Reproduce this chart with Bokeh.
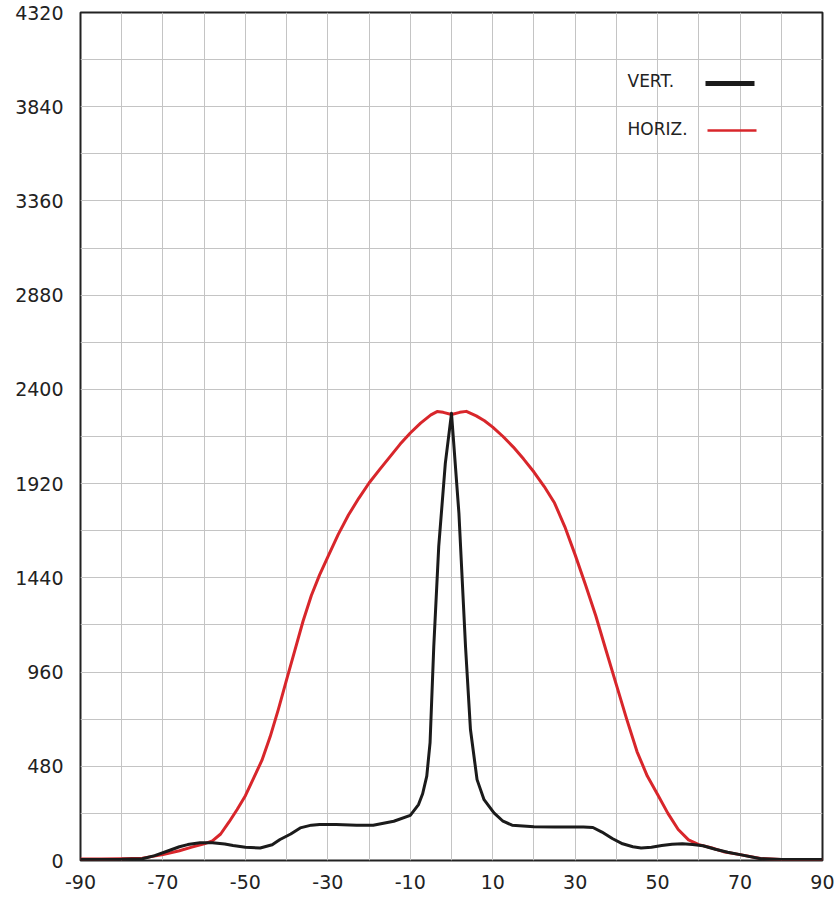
from bokeh.plotting import figure
from bokeh.models import FixedTicker, Label, BoxAnnotation, Range1d
from bokeh.embed import file_html
from bokeh.resources import INLINE

# ---- data ----
horiz_deg = [-90, -85, -80, -75, -70, -66, -63, -60, -58, -56, -54, -52, -50, -48, -46,
             -44, -42, -40, -38, -36, -34, -32, -30, -27.5, -25, -22.5, -20, -17.5,
             -15, -12.5, -10, -7.5, -5, -3.5, -2, 0, 2, 3.6, 6, 8, 10, 12.5, 15, 17.5,
             20, 22.5, 25, 27.5, 30, 32.5, 35, 37.5, 40, 42.5, 45, 47.5, 50, 52.5, 55,
             57.5, 60, 63, 66, 70, 75, 80, 85, 90]
horiz_val = [8, 8, 9, 12, 30, 50, 68, 85, 100, 135, 195, 260, 330, 420, 510,
             630, 770, 921, 1070, 1220, 1350, 1455, 1547, 1660, 1760, 1845, 1923, 1990,
             2055, 2120, 2178, 2228, 2270, 2287, 2283, 2272, 2283, 2288, 2265, 2240, 2208, 2160, 2106, 2045,
             1979, 1905, 1821, 1700, 1557, 1405, 1247, 1070, 895, 720, 555, 430, 336, 240, 158,
             105, 81, 65, 45, 30, 10, 5, 5, 5]

vert_deg = [-90, -80, -75, -72, -69, -66, -64, -61, -58, -55, -53, -50, -46.4, -43.5, -41.6,
            -39, -36.7, -34, -32, -28, -23, -19, -14, -10, -8, -7, -6, -5.2, -4.3, -3.1, -1.5,
            0, 1.8, 3.4, 4.6, 6.2, 7.9, 10.3, 12.5, 14.7, 20, 25, 32, 34.3, 36.5, 39, 41.5,
            44, 46, 48.5, 51, 53.5, 56, 58.5, 61, 64, 67, 70, 75, 80, 90]
vert_val = [5, 6, 9, 25, 47, 70, 81, 90, 91, 84, 76, 67, 64, 80, 107,
            135, 166, 180, 183, 183, 180, 180, 200, 230, 285, 340, 430, 600, 1090, 1599, 2023,
            2278, 1769, 1090, 667, 412, 310, 243, 200, 180, 172, 171, 171, 168, 145, 112, 85,
            70, 64, 68, 76, 83, 85, 82, 75, 57, 42, 30, 9, 5, 5]

x_labels = [-90, -70, -50, -30, -10, 10, 30, 50, 70, 90]
y_labels = [0, 480, 960, 1440, 1920, 2400, 2880, 3360, 3840, 4320]
x_grid = list(range(-90, 91, 10))
y_grid = list(range(0, 4321, 240))

legend_names = ["VERT.", "HORIZ."]
RED = "#d8262b"
BLACK = "#1b1b1b"
FONT = "DejaVu Sans"

p = figure(frame_width=742, frame_height=848, output_backend="svg", toolbar_location=None,
           x_range=Range1d(-90, 90), y_range=Range1d(0, 4320),
           min_border_left=80, min_border_right=12, min_border_top=12, min_border_bottom=0,
           background_fill_color="white", border_fill_color="white")

p.line(horiz_deg, horiz_val, line_color=RED, line_width=3, line_join="round")
p.line(vert_deg, vert_val, line_color=BLACK, line_width=3, line_join="round")

# axes
p.xaxis.ticker = FixedTicker(ticks=x_labels)
p.yaxis.ticker = FixedTicker(ticks=y_labels)
p.xaxis.major_label_overrides = {v: str(v) for v in x_labels}
p.yaxis.major_label_overrides = {v: str(v) for v in y_labels}
p.xgrid.ticker = FixedTicker(ticks=x_grid)
p.ygrid.ticker = FixedTicker(ticks=y_grid)
for g in (p.xgrid, p.ygrid):
    g.grid_line_color = "#c4c4c4"
    g.grid_line_width = 1

for ax in (p.xaxis, p.yaxis):
    ax.axis_line_color = None
    ax.major_tick_line_color = None
    ax.minor_tick_line_color = None
    ax.major_tick_out = 0
    ax.major_tick_in = 0
    ax.minor_tick_out = 0
    ax.major_label_text_font = FONT
    ax.major_label_text_font_size = "19px"
    ax.major_label_text_color = "#222222"
p.xaxis.major_label_standoff = 14
p.yaxis.major_label_standoff = 17

p.outline_line_color = "#222222"
p.outline_line_width = 2

# legend (text left, sample line right)
p.add_layout(Label(x=547, y=780, x_units="screen", y_units="screen", text=legend_names[0],
                   text_font=FONT, text_font_size="17px", text_color="#222222",
                   text_baseline="middle"))
p.add_layout(Label(x=547, y=732, x_units="screen", y_units="screen", text=legend_names[1],
                   text_font=FONT, text_font_size="17px", text_color="#222222",
                   text_baseline="middle"))
p.add_layout(BoxAnnotation(left=625, right=674, bottom=774.5, top=779.5,
                           left_units="screen", right_units="screen",
                           bottom_units="screen", top_units="screen",
                           fill_color=BLACK, fill_alpha=1, line_color=None))
p.add_layout(BoxAnnotation(left=627, right=676, bottom=728.8, top=731.2,
                           left_units="screen", right_units="screen",
                           bottom_units="screen", top_units="screen",
                           fill_color=RED, fill_alpha=1, line_color=None))

open("out.html", "w").write(file_html(p, INLINE))
